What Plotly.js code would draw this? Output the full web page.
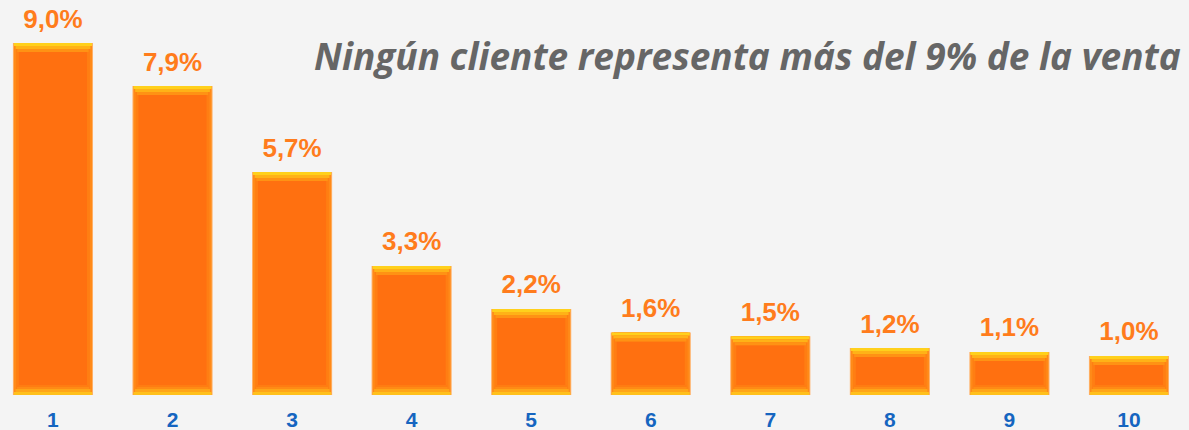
<!DOCTYPE html>
<html><head><meta charset="utf-8">
<script src="https://cdn.plot.ly/plotly-3.0.1.min.js"></script>
<style>html,body{margin:0;padding:0;background:#f4f4f4;}#c{width:1189px;height:430px;}</style>
</head><body><div id="c"></div>
<script>
const clients = [1,2,3,4,5,6,7,8,9,10];
const tickLabels = ['1','2','3','4','5','6','7','8','9','10'];
const share = [9.0,7.9,5.7,3.3,2.2,1.6,1.5,1.2,1.1,1.0];

const W = 0.67;
const pxPerUnit = 395/10.1;
const u = px => px/pxPerUnit;

const traces = [];
// thin light outer edge
traces.push({type:'bar', x:clients, y:share, width:W,
  marker:{color:'#ffb066', line:{width:0}}, hoverinfo:'skip'});
// side bevel
traces.push({type:'bar', x:clients, y:share, width:W*0.975,
  marker:{color:'#ff8a18', line:{width:0}}, hoverinfo:'skip'});
traces.push({type:'bar', x:clients, y:share, width:W*0.92,
  marker:{color:'#ff7e13', line:{width:0}}, hoverinfo:'skip'});
// inner face
traces.push({type:'bar', x:clients, y:share.map(v=>v-u(19)), base:share.map(()=>u(10)), width:W*0.85,
  marker:{color:'#ff7010', line:{width:0}}, hoverinfo:'skip'});
// top bevel bands
const topBands = [['#ffd01c',3],['#ffb217',3],['#ff9214',3]];
let off = 0;
topBands.forEach(([c,h])=>{
  traces.push({type:'bar', x:clients, y:share.map(()=>u(h)), base:share.map(v=>v-u(off+h)),
    width:W*(0.975-0.125*(off/9)), marker:{color:c,line:{width:0}}, hoverinfo:'skip'});
  off += h;
});
// bottom bevel bands
const botBands = [['#ffc01c',3],['#ffa518',3],['#ff8b15',2],['#ff7c12',2]];
off = 0;
botBands.forEach(([c,h])=>{
  traces.push({type:'bar', x:clients, y:share.map(()=>u(h)), base:share.map(()=>u(off)),
    width:W*(0.975-0.125*(off/10)), marker:{color:c,line:{width:0}}, hoverinfo:'skip'});
  off += h;
});
// value labels
traces.push({type:'scatter', mode:'text', x:clients, y:share.map(v=>v+u(22)),
  text:share.map(v=>v.toFixed(1).replace('.',',')+'%'), textposition:'middle center', cliponaxis:false,
  textfont:{family:'Liberation Sans, Arial, sans-serif', size:26, color:'#ff7c1c', weight:'bold'},
  hoverinfo:'skip'});

const layout = {
  width:1189, height:430,
  paper_bgcolor:'#f4f4f4', plot_bgcolor:'#f4f4f4',
  margin:{l:0,r:0,t:0,b:35},
  barmode:'overlay', showlegend:false,
  xaxis:{range:[0.557,10.502], tickvals:clients, ticktext:tickLabels, showgrid:false, zeroline:false,
    showline:false, ticks:'', ticklabelstandoff:10,
    tickfont:{family:'Liberation Sans, Arial, sans-serif', size:21, color:'#1565c0', weight:'bold'}},
  yaxis:{range:[0,10.1], visible:false, showgrid:false, zeroline:false},
  annotations:[{text:'<b><i>Ningún cliente representa más del 9% de la venta</i></b>',
    xref:'paper', yref:'paper', x:0.995, y:(430-35-56)/395, xanchor:'right', yanchor:'middle',
    showarrow:false, font:{family:'Open Sans, Noto Sans, sans-serif', size:37, color:'#666666'}}]
};
Plotly.newPlot('c', traces, layout, {displayModeBar:false, staticPlot:true});
</script></body></html>
